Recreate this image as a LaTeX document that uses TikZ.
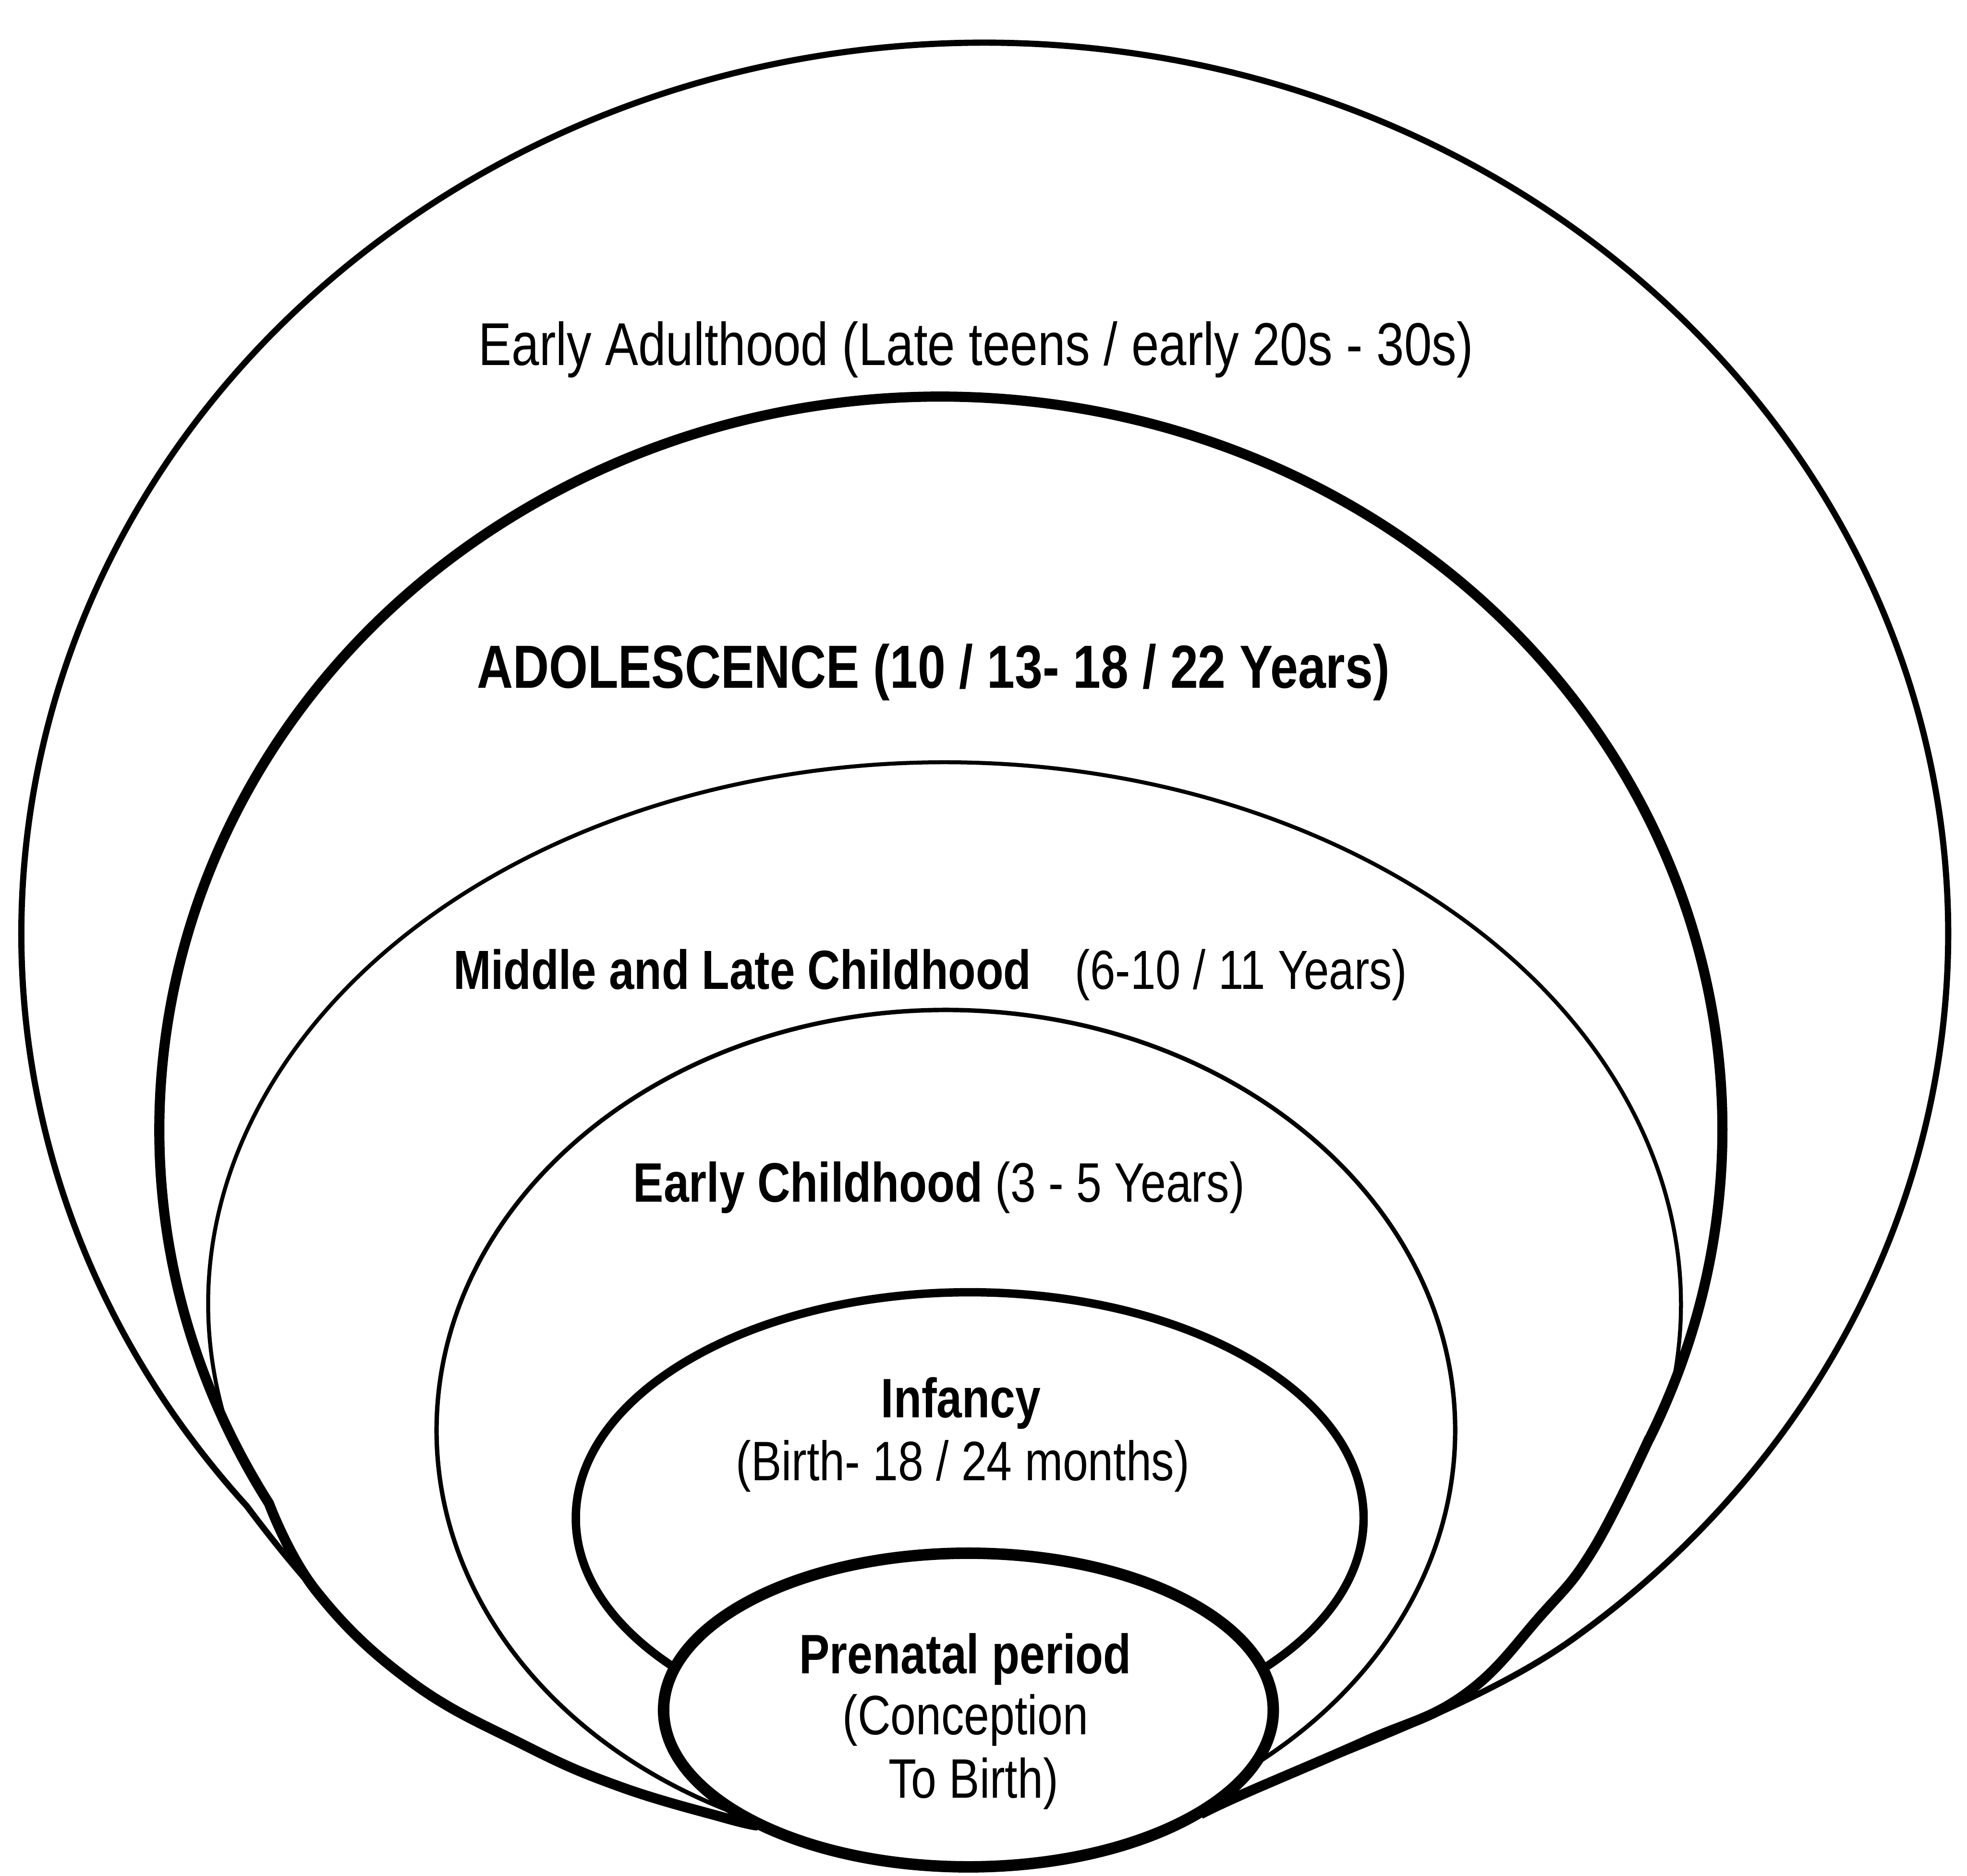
\documentclass[tikz,border=0pt]{standalone}
\usepackage{fontspec}
\newfontfamily\nf[FakeStretch=0.82]{Liberation Sans}
\begin{document}
\begin{tikzpicture}[x=0.01cm,y=-0.01cm,
  lbl/.style={anchor=base,inner sep=0pt},
  lwouter/.style={line width=1.4pt,line join=round},
  lwadol/.style={line width=2.3pt,line join=round},
  lwmid/.style={line width=0.9pt},
  lwearly/.style={line width=1.0pt},
  lwinf/.style={line width=1.9pt},
  lwpre/.style={line width=2.6pt}]
\useasboundingbox (0,0) rectangle (1568,1495);
\fill[white] (0,0) rectangle (1568,1495);

% Early adulthood (outer)
\draw[lwouter] plot[smooth,tension=0.7] coordinates {(604,1455) (578,1449) (494,1424) (418,1391) (327,1340) (252,1268) (196.7,1200.4)}
  arc[start angle=140,end angle=412,x radius=768,y radius=710]
  .. controls (1184.8,1357.2) and (1069,1396.4) .. (991,1430) -- (957,1446);

% Adolescence
\draw[lwadol] plot[smooth,tension=0.7] coordinates {(604,1455) (578,1449) (494,1424) (418,1391) (327,1340) (252,1268) (214.4,1198.3)}
  arc[start angle=149.3,end angle=385,x radius=623,y radius=584]
  -- plot[smooth,tension=0.7] coordinates {(1314.6,1146.8) (1270,1235) (1228,1288) (1167,1351) (1088,1388) (991,1430) (957,1446)};

% Middle and late childhood
\draw[lwmid] (177.4,1124.2) arc[start angle=168.7,end angle=369,x radius=587,y radius=432];

% Early childhood
\draw[lwearly] (754,1140) ellipse[x radius=406,y radius=335];

% Infancy
\draw[lwinf] (773,1210) ellipse[x radius=314,y radius=180];

% Prenatal
\draw[lwpre,fill=white] (772,1363) ellipse[x radius=243,y radius=125];

% Labels
\node[lbl,font=\nf\fontsize{13.7}{16}\selectfont] (ea) at (778,291) {Early Adulthood (Late teens / early 20s - 30s)};
\node[lbl,font=\nf\bfseries\fontsize{13.8}{16}\selectfont] (adol) at (744,548.5) {ADOLESCENCE (10 / 13- 18 / 22 Years)};
\node[lbl,font=\nf\fontsize{12.5}{15}\selectfont] (mid) at (741.5,788.6) {{\bfseries Middle and Late Childhood}\hspace{10pt}(6-10 / 11 Years)};
\node[lbl,font=\nf\fontsize{12.6}{15}\selectfont] (ec) at (748.5,958) {{\bfseries Early Childhood} (3 - 5 Years)};
\node[lbl,font=\nf\bfseries\fontsize{12.6}{15}\selectfont] (inf1) at (766,1130) {Infancy};
\node[lbl,font=\nf\fontsize{12.6}{15}\selectfont] (inf2) at (767.5,1180) {(Birth- 18 / 24 months)};
\node[lbl,font=\nf\bfseries\fontsize{12.6}{15}\selectfont] (pre1) at (769.5,1334) {Prenatal period};
\node[lbl,font=\nf\fontsize{12.6}{15}\selectfont] (pre2) at (769.6,1382.4) {(Conception};
\node[lbl,font=\nf\fontsize{12.6}{15}\selectfont] (pre3) at (776,1433) {To Birth)};
\end{tikzpicture}
\end{document}
